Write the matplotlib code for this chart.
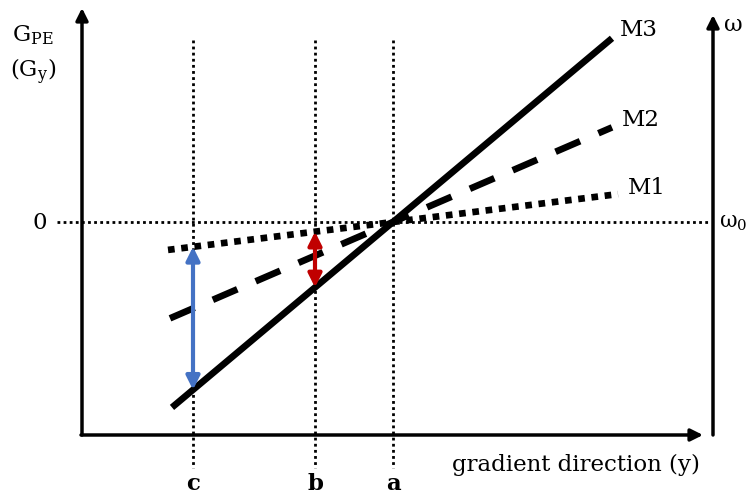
import matplotlib
matplotlib.use("Agg")
import matplotlib.pyplot as plt
import numpy as np

plt.rcParams['font.family'] = ['DejaVu Serif']
plt.rcParams['mathtext.fontset'] = 'dejavuserif'

# positions along the gradient direction (a is the crossing point)
pos_names = ['c', 'b', 'a']
pos_x = [-200, -78, 0]

# the three models: G = slope * x, drawn from x_start to x_end
models = ['M1', 'M2', 'M3']
slopes = [0.124, 0.432, 0.839]
x_start = [-225, -223, -221]
x_end = [225, 219, 219]
styles = [(0, (1, 1)), (0, (4, 3)), '-']

fig = plt.figure(figsize=(7.5, 4.94), dpi=100)
ax = fig.add_axes([0, 0, 1, 1])
ax.set_xlim(-393, 357)
ax.set_ylim(-272, 222)
ax.axis('off')

# axes with arrows
def arrow(x0, y0, x1, y1, color='black', style='-|>', lw=2.5, ms=18):
    ax.annotate('', xy=(x1, y1), xytext=(x0, y0),
                arrowprops=dict(arrowstyle=style, lw=lw, color=color,
                                mutation_scale=ms, shrinkA=0, shrinkB=0))

arrow(-311, -213, -311, 214)
arrow(-312, -213, 310, -213)
arrow(320, -213, 320, 207)

# reference dotted lines
ax.plot([-336, 316], [0, 0], color='black', lw=2, ls=(0, (1, 1.2)))
for x in pos_x:
    ax.plot([x, x], [182, -246], color='black', lw=2, ls=(0, (1, 1.2)))

# model lines
for i in range(len(models)):
    xs = np.array([x_start[i], x_end[i]])
    ax.plot(xs, slopes[i] * xs, color='black', lw=4.8, ls=styles[i],
            solid_capstyle='butt', dash_capstyle='butt')

# difference arrows between M1 and M3 at c and b
for x, col in [(pos_x[0], '#4472C4'), (pos_x[1], '#C00000')]:
    arrow(x, slopes[0] * x, x, slopes[2] * x, color=col, style='<|-|>', lw=3, ms=20)

# text labels
fs = 16.5
ax.text(-381, 187, r'G$_{\mathrm{PE}}$', fontsize=fs, va='center')
ax.text(-383, 150, r'(G$_{\mathrm{y}}$)', fontsize=fs, va='center')
ax.text(-353, -1, '0', fontsize=fs, va='center', ha='center')
ax.text(331, 197, 'ω', fontsize=fs, va='center')
ax.text(326, 0, r'ω$_0$', fontsize=15.5, va='center')
label_xy = [(235, 34), (229, 102), (227, 192)]
for m, (lx, ly) in zip(models, label_xy):
    ax.text(lx, ly, m, fontsize=fs, va='center')
ax.text(59, -243, 'gradient direction (y)', fontsize=fs, va='center')
for n, x in zip(pos_names, pos_x):
    ax.text(x, -262, n, fontsize=fs, va='center', ha='center', weight='bold')

fig.savefig('out.png', dpi=100)
